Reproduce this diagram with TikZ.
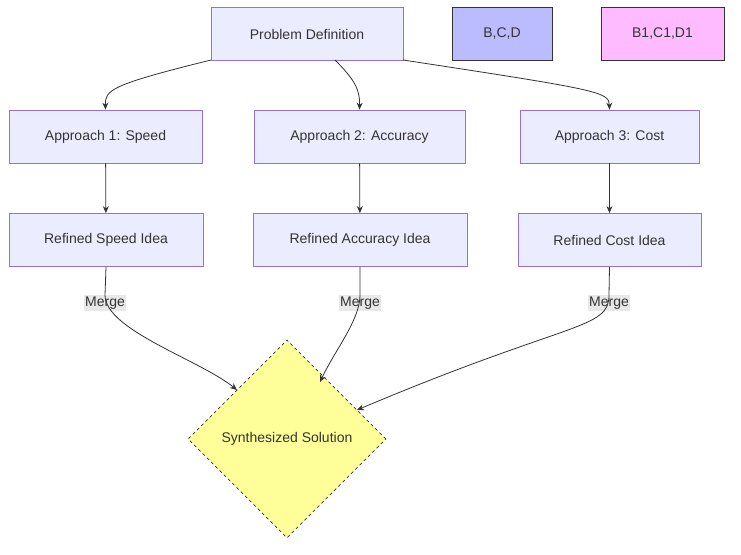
\documentclass[tikz,border=0pt]{standalone}
\usepackage{fontspec}
\setmainfont{Liberation Sans}
\usetikzlibrary{shapes.geometric,arrows.meta}
\definecolor{nfill}{HTML}{ECECFF}
\definecolor{nline}{HTML}{9370DB}
\definecolor{edge}{HTML}{333333}
\tikzset{
 x=1pt,y=-1pt,
 box/.style={draw=nline,fill=nfill,line width=0.8pt,minimum height=53pt,font=\fontsize{14}{16}\selectfont,text=edge},
 conn/.style={draw=edge,line width=0.8pt,-{Stealth[length=7pt,width=6pt]}},
 lbl/.style={fill=black!9,inner sep=1.5pt,font=\fontsize{14}{16}\selectfont,text=edge}
}
\begin{document}
\begin{tikzpicture}
\useasboundingbox (0,0) rectangle (741,554);
\node[box,minimum width=192pt] (pd) at (307,34) {Problem Definition};
\node[box,minimum width=100pt,fill={rgb,255:red,187;green,187;blue,255},draw=edge] (bcd) at (502,34) {B,C,D};
\node[box,minimum width=123pt,fill={rgb,255:red,255;green,187;blue,255},draw=edge] (bcd1) at (662.5,34) {B1,C1,D1};
\node[box,minimum width=193pt] (a1) at (105.5,136.5) {Approach 1: Speed};
\node[box,minimum width=211pt] (a2) at (359.5,136.5) {Approach 2: Accuracy};
\node[box,minimum width=179pt] (a3) at (609.5,136.5) {Approach 3: Cost};
\node[box,minimum width=194pt] (r1) at (106,240) {Refined Speed Idea};
\node[box,minimum width=214pt] (r2) at (360,240) {Refined Accuracy Idea};
\node[box,minimum width=183pt] (r3) at (609.5,240) {Refined Cost Idea};
\node[diamond,draw=edge,dashed,line width=0.8pt,fill={rgb,255:red,255;green,255;blue,153},minimum width=198pt,minimum height=198pt,inner sep=0pt,font=\fontsize{14}{16}\selectfont,text=edge] (s) at (287,439) {Synthesized Solution};
\draw[conn] (211,60) .. controls (110,85) and (105,90) .. (a1.north);
\draw[conn] (335,60) .. controls (355,80) and (360,90) .. (a2.north);
\draw[conn] (403,60) .. controls (600,90) and (609,92) .. (a3.north);
\draw[conn] (a1) -- (r1);
\draw[conn] (a2) -- (r2);
\draw[conn] (a3) -- (r3);
\node[lbl] (m1) at (105,303) {Merge};
\node[lbl] (m2) at (360,303) {Merge};
\node[lbl] (m3) at (609,303) {Merge};
\draw[conn] (r1.south) -- (m1.north) .. controls (105,330) and (200,360) .. (237,390);
\draw[conn] (r2.south) -- (m2.north) .. controls (360,320) and (335,350) .. (320,382);
\draw[conn] (r3.south) -- (m3.north) .. controls (609,330) and (570,320) .. (357,410);
\end{tikzpicture}
\end{document}
